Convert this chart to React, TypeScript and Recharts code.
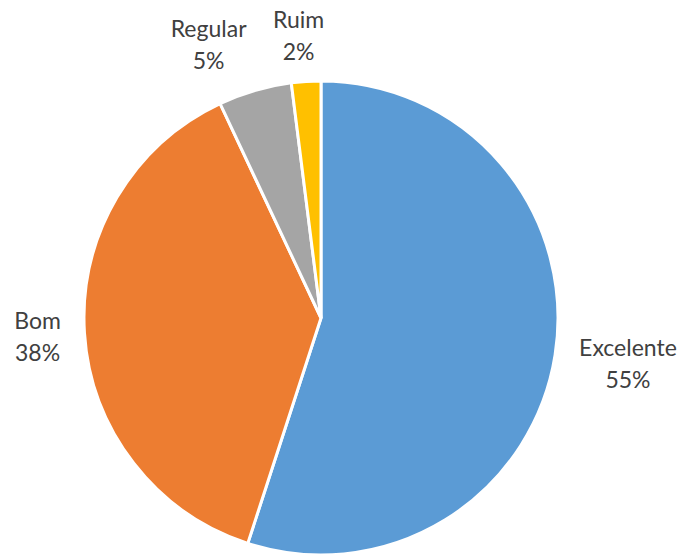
import React from "react";
import { PieChart, Pie, Cell } from "recharts";

const categories = ["Excelente", "Bom", "Regular", "Ruim"];
const percentages = [55, 38, 5, 2];
const colors = ["#5B9BD5", "#ED7D31", "#A5A5A5", "#FFC000"];

const data = categories.map((name, i) => ({ name, value: percentages[i] }));

const RAD = Math.PI / 180;
const FONT = 23;
const LINE = 32;

// Excel nudges some labels sideways so they clear each other
const labelNudge: Record<string, [number, number]> = {
    Excelente: [4, 1],
    Bom: [-5, 0],
    Regular: [-30, -1],
    Ruim: [-5, 0],
};

const renderLabel = (props: any) => {
    const { cx, cy, midAngle, outerRadius, name, value } = props;
    const cos = Math.cos(-midAngle * RAD);
    const sin = Math.sin(-midAngle * RAD);
    const edge = outerRadius + 18;
    const pctText = `${value}%`;
    const halfW = Math.max(name.length * 11.5, pctText.length * 16) / 2;
    const halfH = LINE;
    const nudge = labelNudge[name] || [0, 0];
    const x = cx + edge * cos + cos * halfW + nudge[0];
    const y = cy + edge * sin + sin * halfH * 0.9 + nudge[1];
    return (
        <text x={x} y={y} textAnchor="middle" fill="#404040"
              fontFamily="Lato, sans-serif" fontSize={FONT}>
            <tspan x={x} y={y - LINE / 2} dominantBaseline="central">{name}</tspan>
            <tspan x={x} y={y + LINE / 2} dominantBaseline="central">{pctText}</tspan>
        </text>
    );
};

const App = () => {
    return (
        <div style={{ position: "absolute", left: 0, top: 0 }}>
            <PieChart width={684} height={554}>
                <Pie data={data}
                     dataKey="value"
                     nameKey="name"
                     cx={316}
                     cy={313}
                     outerRadius={237}
                     startAngle={90}
                     endAngle={-270}
                     stroke="#ffffff"
                     strokeWidth={3}
                     label={renderLabel}
                     labelLine={false}
                     isAnimationActive={false}>
                    {data.map((d, i) => (
                        <Cell key={d.name} fill={colors[i]}/>
                    ))}
                </Pie>
            </PieChart>
        </div>
    );
};

export default App;
